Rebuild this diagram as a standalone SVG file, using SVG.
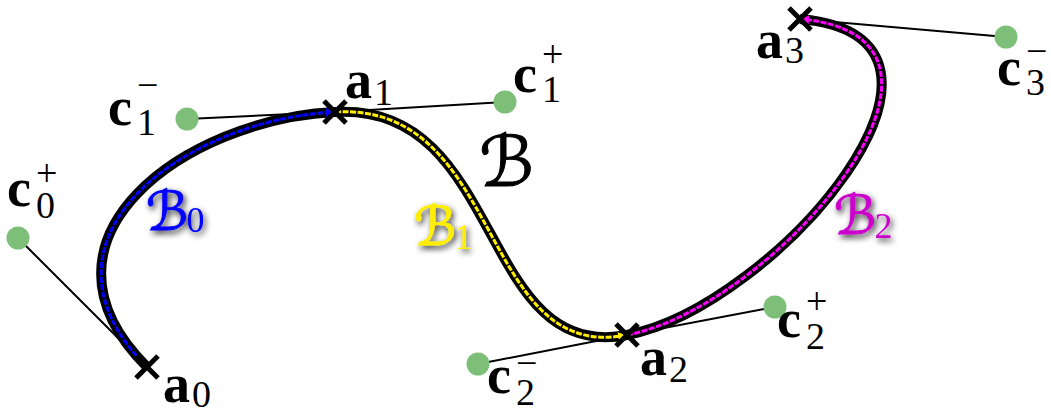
<svg xmlns="http://www.w3.org/2000/svg" width="1051" height="413" viewBox="0 0 1051 413">
<style>
.tan{stroke:#000;stroke-width:2;fill:none}
.outer{stroke:#000;stroke-width:10;fill:none;stroke-linecap:butt}
.inner{stroke-width:3;fill:none;stroke-dasharray:6 1.5}
.dot{fill:#7dbf78}
.x{stroke:#000;stroke-width:5;stroke-linecap:butt}
.m{font-family:"Liberation Serif",serif;font-weight:bold;font-size:54px;fill:#000}
.s{font-family:"Liberation Serif",serif;font-weight:normal;font-size:38px}
.cal{font-family:"DejaVu Sans","DejaVu Serif",serif;stroke-width:1}
.d{font-family:"Liberation Serif",serif;font-size:36px}
</style>
<defs>
<filter id="glow" x="-30%" y="-30%" width="160%" height="160%">
<feGaussianBlur in="SourceAlpha" stdDeviation="3" result="b"/>
<feOffset in="b" dx="2" dy="3" result="o"/>
<feComponentTransfer in="o" result="g"><feFuncA type="linear" slope="0.85"/></feComponentTransfer>
<feMerge><feMergeNode in="g"/><feMergeNode in="SourceGraphic"/></feMerge>
</filter>
<marker id="arB" viewBox="0 0 10 10" refX="10" refY="5" markerWidth="9" markerHeight="9" markerUnits="userSpaceOnUse" orient="auto"><path d="M0,0 L10,5 L0,10 z" fill="#0000ff"/></marker>
<marker id="arY" viewBox="0 0 10 10" refX="10" refY="5" markerWidth="9" markerHeight="9" markerUnits="userSpaceOnUse" orient="auto"><path d="M0,0 L10,5 L0,10 z" fill="#ffee00"/></marker>
<marker id="arM" viewBox="0 0 10 10" refX="10" refY="5" markerWidth="9" markerHeight="9" markerUnits="userSpaceOnUse" orient="auto"><path d="M0,0 L10,5 L0,10 z" fill="#ff00ff"/></marker>
</defs>
<rect width="1051" height="413" fill="#fff"/>
<g id="connectors">
<line class="tan" x1="18" y1="238" x2="147" y2="367"/>
<line class="tan" x1="187" y1="119" x2="335" y2="112"/>
<line class="tan" x1="335" y1="112" x2="505" y2="102"/>
<line class="tan" x1="478" y1="364" x2="627" y2="335"/>
<line class="tan" x1="627" y1="335" x2="775" y2="307"/>
<line class="tan" x1="1006" y1="37" x2="800" y2="19"/>
</g>
<g id="curve">
<path class="outer" d="M147,367 C18,238 187,119 335,112 C505,102 478,364 627,335 C775,307 1006,37 800,19"/>
<path class="inner" stroke="#0000ff" marker-end="url(#arB)" d="M147,367 C18,238 187,119 335,112"/>
<path class="inner" stroke="#ffee00" marker-end="url(#arY)" d="M335,112 C505,102 478,364 627,335"/>
<path class="inner" stroke="#ff00ff" marker-end="url(#arM)" d="M627,335 C775,307 1006,37 800,19"/>
</g>
<g id="a0"><path class="x" d="M136,356 L158,378 M158,356 L136,378"/><text class="m" x="163" y="402">a<tspan class="s" dx="2" dy="5">0</tspan></text></g>
<g id="a1"><path class="x" d="M324,101 L346,123 M346,101 L324,123"/><text class="m" x="345" y="98">a<tspan class="s" dx="2" dy="7">1</tspan></text></g>
<g id="a2"><path class="x" d="M616,324 L638,346 M638,324 L616,346"/><text class="m" x="640" y="375">a<tspan class="s" dx="2" dy="7">2</tspan></text></g>
<g id="a3"><path class="x" d="M789,8 L811,30 M811,8 L789,30"/><text class="m" x="756" y="58">a<tspan class="s" dx="2" dy="5">3</tspan></text></g>
<g id="c0p"><circle class="dot" cx="18" cy="238" r="11.5"/><text class="m" x="7" y="206">c<tspan class="s" dx="5" dy="12">0</tspan><tspan class="s" dx="-19" dy="-32">+</tspan></text></g>
<g id="c1m"><circle class="dot" cx="187" cy="119" r="11.5"/><text class="m" x="108" y="125">c<tspan class="s" dx="5" dy="10">1</tspan><tspan class="s" dx="-19" dy="-37">−</tspan></text></g>
<g id="c1p"><circle class="dot" cx="505" cy="102" r="11.5"/><text class="m" x="513" y="92">c<tspan class="s" dx="5" dy="10">1</tspan><tspan class="s" dx="-19" dy="-35">+</tspan></text></g>
<g id="c2m"><circle class="dot" cx="478" cy="364" r="11.5"/><text class="m" x="487" y="393">c<tspan class="s" dx="5" dy="12">2</tspan><tspan class="s" dx="-19" dy="-29">−</tspan></text></g>
<g id="c2p"><circle class="dot" cx="775" cy="307" r="11.5"/><text class="m" x="777" y="337">c<tspan class="s" dx="5" dy="12">2</tspan><tspan class="s" dx="-19" dy="-35">+</tspan></text></g>
<g id="c3m"><circle class="dot" cx="1006" cy="37" r="11.5"/><text class="m" x="997" y="85">c<tspan class="s" dx="5" dy="10">3</tspan><tspan class="s" dx="-19" dy="-31">−</tspan></text></g>
<g id="B"><text class="cal" x="479" y="186" font-size="70" fill="#000" stroke="#000">ℬ</text></g>
<g id="B0" filter="url(#glow)"><text class="cal" x="146" y="230" font-size="54" fill="#0000ff" stroke="#0000ff">ℬ<tspan class="d" dx="-2" dy="2" stroke="none">0</tspan></text></g>
<g id="B1" filter="url(#glow)"><text class="cal" x="414" y="245" font-size="54" fill="#ffee00" stroke="#ffee00">ℬ<tspan class="d" dx="-2" dy="4" stroke="none">1</tspan></text></g>
<g id="B2" filter="url(#glow)"><text class="cal" x="834" y="234" font-size="54" fill="#cc00cc" stroke="#cc00cc">ℬ<tspan class="d" dx="-2" dy="4" stroke="none">2</tspan></text></g>
</svg>
